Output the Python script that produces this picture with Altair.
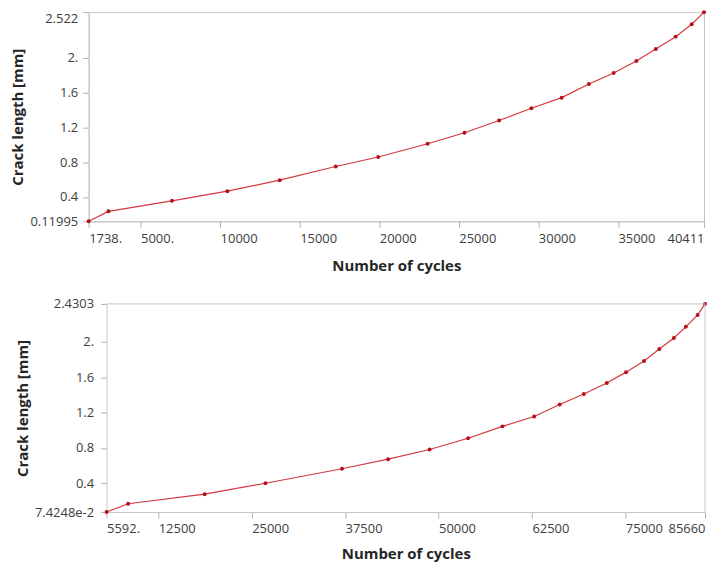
import altair as alt
import pandas as pd

# ---- data ----
top_cycles = [1738, 2980, 6974, 10452, 13744, 17266, 19938, 23041, 25358, 27530,
              29560, 31465, 33180, 34732, 36160, 37383, 38628, 39638, 40411]
top_crack = [0.11995, 0.234, 0.355, 0.466, 0.592, 0.749, 0.858, 1.011, 1.137, 1.278,
             1.418, 1.54, 1.697, 1.823, 1.96, 2.10, 2.241, 2.383, 2.522]

bot_cycles = [5592, 8479, 18715, 26852, 37088, 43256, 48805, 53962, 58558, 62807,
              66219, 69448, 72521, 75092, 77505, 79552, 81492, 83092, 84672, 85660]
bot_crack = [0.074248, 0.168, 0.276, 0.400, 0.564, 0.673, 0.782, 0.909, 1.044, 1.156,
             1.291, 1.411, 1.535, 1.658, 1.785, 1.92, 2.044, 2.171, 2.306, 2.4303]

top_xticks = [1738, 5000, 10000, 15000, 20000, 25000, 30000, 35000, 40411]
top_xlabels = ["1738.", "5000.", "10000", "15000", "20000", "25000", "30000", "35000", "40411"]
top_yticks = [0.11995, 0.4, 0.8, 1.2, 1.6, 2.0, 2.522]
top_ylabels = ["0.11995", "0.4", "0.8", "1.2", "1.6", "2.", "2.522"]

bot_xticks = [5592, 12500, 25000, 37500, 50000, 62500, 75000, 85660]
bot_xlabels = ["5592.", "12500", "25000", "37500", "50000", "62500", "75000", "85660"]
bot_yticks = [0.074248, 0.4, 0.8, 1.2, 1.6, 2.0, 2.4303]
bot_ylabels = ["7.4248e-2", "0.4", "0.8", "1.2", "1.6", "2.", "2.4303"]

X_TITLE = "Number of cycles"
Y_TITLE = "Crack length [mm]"

FONT = "Open Sans"
LINE_COLOR = "#d23a40"
POINT_COLOR = "#b80f1c"
FRAME = "#c6c6c6"


def label_expr(vals, labels):
    expr = "datum.label"
    for v, l in reversed(list(zip(vals, labels))):
        expr = f"abs(datum.value - {v}) < 1e-6 ? '{l}' : ({expr})"
    return expr


def panel(xs, ys, xticks, xlabels, yticks, ylabels, width, height,
          ylab_pad, ytitle_pad, top_flush, shift, xtitle_pad):
    df = pd.DataFrame({"cycles": xs, "crack": ys})
    xmin, xmax = xticks[0], xticks[-1]
    ymin, ymax = yticks[0], yticks[-1]
    xscale = alt.Scale(domain=[xmin, xmax], nice=False, zero=False,
                       range=[shift, width])
    yscale = alt.Scale(domain=[ymin, ymax], nice=False, zero=False)
    xaxis_kw = dict(values=xticks, labelExpr=label_expr(xticks, xlabels),
                    title=X_TITLE, labelOverlap=False, labelFlush=False,
                    labelAlign={"condition": {"test": f"datum.value >= {xmax - 1}",
                                              "value": "right"},
                                "value": "left"},
                    tickSize=6, labelPadding=5, titlePadding=xtitle_pad)
    if shift:
        xaxis_kw["titleX"] = (shift + width) / 2
    xaxis = alt.Axis(**xaxis_kw)
    ybase = {"condition": {"test": f"datum.value >= {ymax - 1e-6}", "value": "top"},
             "value": "middle"} if top_flush else "middle"
    yaxis_kw = dict(values=yticks, labelExpr=label_expr(yticks, ylabels),
                    title=Y_TITLE, labelOverlap=False, labelFlush=False,
                    labelBaseline=ybase,
                    tickSize=6, labelPadding=ylab_pad, titlePadding=ytitle_pad)
    if shift:
        yaxis_kw["offset"] = -shift
    yaxis = alt.Axis(**yaxis_kw)
    x = alt.X("cycles:Q", scale=xscale, axis=xaxis)
    y = alt.Y("crack:Q", scale=yscale, axis=yaxis)
    base = alt.Chart(df)
    line = base.mark_line(color=LINE_COLOR, strokeWidth=1.2).encode(x=x, y=y)
    pts = base.mark_circle(color=POINT_COLOR, size=16, opacity=1).encode(x=x, y=y)
    layers = [line, pts]
    props = dict(width=width, height=height)
    if shift:
        frame = pd.DataFrame({"cycles": [xmin], "cycles2": [xmax],
                              "crack": [ymin], "crack2": [ymax]})
        fb = alt.Chart(frame)
        top_rule = fb.mark_rule(color=FRAME, strokeWidth=1).encode(
            x=x, x2="cycles2:Q",
            y=alt.Y("crack2:Q", scale=yscale, axis=yaxis))
        right_rule = fb.mark_rule(color=FRAME, strokeWidth=1).encode(
            x=alt.X("cycles2:Q", scale=xscale, axis=xaxis),
            y=y, y2="crack2:Q")
        layers = layers + [top_rule, right_rule]
        props["view"] = alt.ViewBackground(strokeOpacity=0)
    return alt.layer(*layers).properties(**props)


top = panel(top_cycles, top_crack, top_xticks, top_xlabels, top_yticks, top_ylabels,
            618, 210, 5, 4, True, 0, 13)
bottom = panel(bot_cycles, bot_crack, bot_xticks, bot_xlabels, bot_yticks, bot_ylabels,
               619, 209, 7, 4, False, 18, 11)

chart = alt.vconcat(top, bottom, spacing=24,
                    padding={"left": 2, "top": 0, "right": 0, "bottom": 0},
                    background="white"
                    ).configure_view(stroke=FRAME, strokeWidth=1
                    ).configure_axis(
    domainColor=FRAME, tickColor="#b0b0b0", grid=False,
    labelFont=FONT, labelFontSize=13, labelColor="#3d3d3d",
    titleFont=FONT, titleFontSize=15, titleFontWeight="bold", titleColor="#262626",
)

chart.save("out.html", embed_options={"renderer": "svg", "actions": False})
